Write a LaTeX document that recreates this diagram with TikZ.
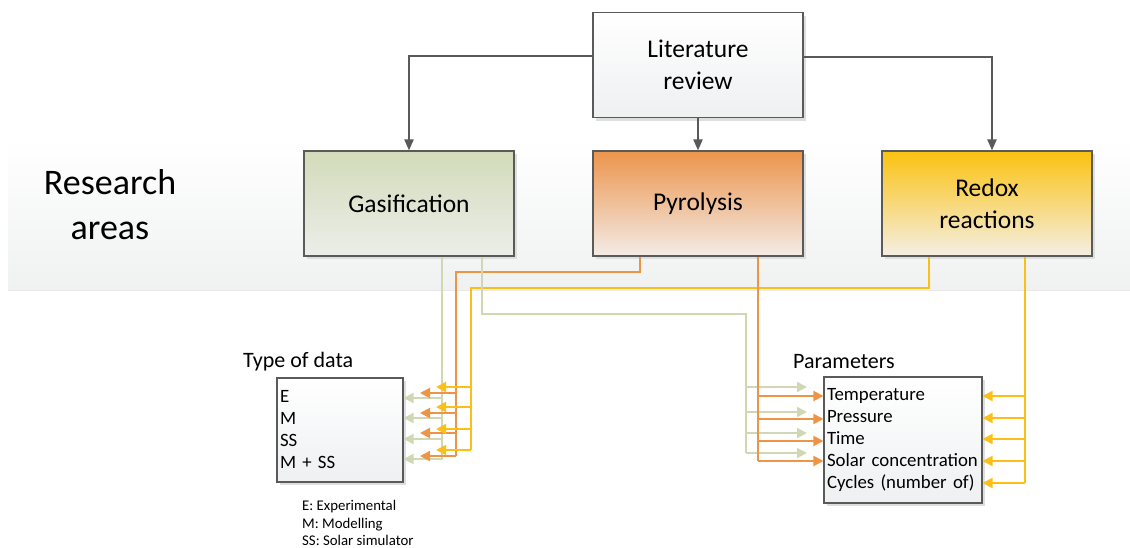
\documentclass[tikz,border=0pt]{standalone}
\usepackage{fontspec}
\setmainfont{Carlito}
\usetikzlibrary{arrows.meta,shadows}
\definecolor{boxline}{HTML}{5A5A5A}
\definecolor{arrgray}{HTML}{595959}
\definecolor{gastop}{HTML}{D2DBB9}
\definecolor{gasbot}{HTML}{ECEEEA}
\definecolor{pyrtop}{HTML}{EC944C}
\definecolor{pyrbot}{HTML}{F3ECE7}
\definecolor{redtop}{HTML}{FBC210}
\definecolor{redbot}{HTML}{F4EFE5}
\definecolor{littop}{HTML}{FFFFFF}
\definecolor{litbot}{HTML}{EEF0F1}
\definecolor{bandbot}{HTML}{F0F1F1}
\definecolor{bandmid}{HTML}{F5F6F6}
\definecolor{cgrn}{HTML}{D0D8B3}
\definecolor{corg}{HTML}{EE9447}
\definecolor{cyel}{HTML}{FCBE18}
\tikzset{
  areabox/.style={draw=boxline, line width=1.1pt, minimum width=210pt, minimum height=105pt,
    inner sep=0pt, align=center, font=\fontsize{25.5}{32}\selectfont,
    drop shadow={shadow xshift=3pt, shadow yshift=-3pt, fill=black!13, opacity=1}},
  listbox/.style={draw=boxline, line width=1.1pt, inner xsep=3pt, inner ysep=0pt, align=left,
    top color=white, bottom color=litbot, font=\fontsize{18.8}{22}\selectfont,
    execute at begin node={\hyphenpenalty=10000\relax},
    drop shadow={shadow xshift=3pt, shadow yshift=-3pt, fill=black!13, opacity=1}},
  toparrow/.style={draw=arrgray, line width=2pt, -{Triangle[length=11pt,width=9pt]}},
  grn/.style={draw=cgrn, line width=2pt},
  org/.style={draw=corg, line width=2pt},
  yel/.style={draw=cyel, line width=2pt},
  tipA/.style={-{Triangle[length=10pt,width=10pt]}},
  ttl/.style={font=\fontsize{22}{26}\selectfont, anchor=west, inner sep=0pt},
}
\begin{document}
\begin{tikzpicture}[x=1pt,y=-1pt]
\useasboundingbox (0,0) rectangle (1130,547);
% research band
\fill[black!9] (8,142) rectangle (1130,291);
\shade[top color=white, middle color=bandmid, bottom color=bandbot] (8,138) rectangle (1130,289);
\node[font=\fontsize{36}{45}\selectfont, align=center, inner sep=0pt] (ra) at (110,205) {Research\\areas};

% top boxes
\node[areabox, top color=littop, bottom color=litbot] (lit) at (698,65) {Literature\\review};
\node[areabox, top color=gastop, bottom color=gasbot] (gas) at (409,203.5) {Gasification};
\node[areabox, top color=pyrtop, bottom color=pyrbot] (pyr) at (698,203.5) {\raisebox{-2pt}{Pyrolysis}};
\node[areabox, top color=redtop, bottom color=redbot] (red) at (987,203.5) {Redox\\reactions};

\draw[toparrow] ([yshift=9pt]lit.west) -| (gas.north);
\draw[toparrow] (lit.south) -- (pyr.north);
\draw[toparrow] ([yshift=8pt]lit.east) -| ([xshift=5pt]red.north);

% lower boxes
\node[listbox, minimum width=126pt, minimum height=104pt, text width=120pt] (tod) at (340,430)
  {E\\M\\SS\\M + SS};
\node[ttl] (todt) at (243,362) {Type of data};
\node[listbox, minimum width=158pt, minimum height=126pt, text width=152pt] (par) at (903,440)
  {Temperature\\Pressure\\Time\\Solar concentration\\Cycles (number of)};
\node[ttl] (part) at (793,362) {Parameters};
\node[font=\fontsize{14.8}{17.5}\selectfont, align=left, anchor=west, inner sep=0pt] (leg) at (302,523)
  {E: Experimental\\M: Modelling\\SS: Solar simulator};

% tip columns
\coordinate (otip) at (420,0);
\coordinate (ytip) at (436,0);
\coordinate (gtip) at (807,0);

% Gasification -> Type of data
\draw[grn] (gas.south -| 442,0) -- (442,460);
\foreach \y in {398,418,439,459} \draw[grn,tipA] (442,\y) -- (tod.east |- 0,\y);
% Pyrolysis -> Type of data
\draw[org] (pyr.south -| 640,0) |- (456,272) -- (456,456);
\foreach \y in {393,413,433,456} \draw[org,tipA] (456,\y) -- (otip |- 0,\y);
% Redox -> Type of data
\draw[yel] (red.south -| 929,0) |- (471,288) -- (471,450);
\foreach \y in {387,407,429,450} \draw[yel,tipA] (471,\y) -- (ytip |- 0,\y);

% Gasification -> Parameters
\draw[grn] (gas.south -| 482,0) |- (746,314) -- (746,453);
\foreach \y in {387,412,433,453} \draw[grn,tipA] (746,\y) -- (gtip |- 0,\y);
% Pyrolysis -> Parameters
\draw[org] (pyr.south -| 758,0) -- (758,461);
\foreach \y in {396,419,441,461} \draw[org,tipA] (758,\y) -- (par.west |- 0,\y);
% Redox -> Parameters
\draw[yel] (red.south -| 1025,0) -- (1025,483);
\foreach \y in {396,418,439,461,483} \draw[yel,tipA] (1025,\y) -- (par.east |- 0,\y);
\end{tikzpicture}
\end{document}
